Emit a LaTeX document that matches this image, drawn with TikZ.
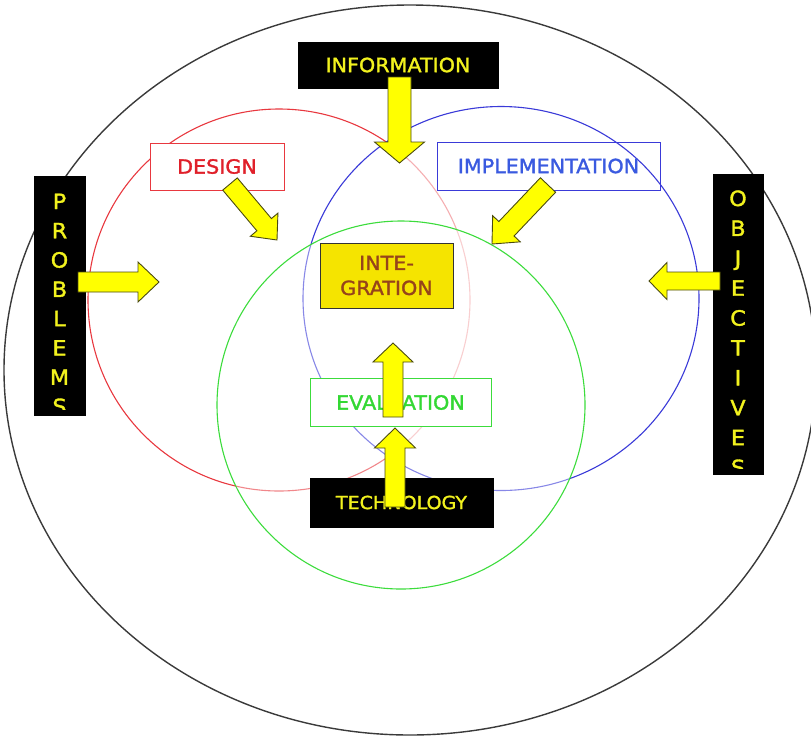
\documentclass[tikz,border=0pt]{standalone}
\usepackage{fontspec}
\newfontfamily\labelfont[FakeStretch=1.06,FakeBold=1.6]{DejaVu Sans}
\usetikzlibrary{calc}

\definecolor{outergray}{HTML}{3A3A3A}
\definecolor{ringred}{HTML}{E8383F}
\definecolor{ringblue}{HTML}{3A3AD8}
\definecolor{ringgreen}{HTML}{3CDC3C}
\definecolor{designred}{HTML}{E0202A}
\definecolor{implblue}{HTML}{3A5AE0}
\definecolor{evalgreen}{HTML}{33D833}
\definecolor{signyellow}{HTML}{F2F21E}
\definecolor{arrowfill}{HTML}{FFFF00}
\definecolor{arrowedge}{HTML}{4A4A10}
\definecolor{integfill}{HTML}{F5E400}
\definecolor{integtext}{HTML}{96441A}

% block arrow: tail, tip, shaft half width, head half width, head length
\newcommand{\bigarrow}[5]{%
  \coordinate (ba-h) at ($(#2)!#5!(#1)$);
  \draw[blockarrow] ($(#1)!#3!90:(#2)$) -- ($(ba-h)!#3!90:(#2)$)
    -- ($(ba-h)!#4!90:(#2)$) -- (#2) -- ($(ba-h)!#4!-90:(#2)$)
    -- ($(ba-h)!#3!-90:(#2)$) -- ($(#1)!#3!-90:(#2)$) -- cycle;}

\begin{document}
\begin{tikzpicture}[x=1pt,y=-1pt,
  ring/.style={line width=1.1pt},
  labelbox/.style={line width=1pt, inner sep=0pt,
    font=\labelfont\fontsize{19.5}{22}\selectfont},
  sign/.style={labelbox, fill=black, draw=black, text=signyellow},
  blockarrow/.style={fill=arrowfill, draw=arrowedge, line width=0.9pt, line join=miter},
  letter/.style={text=signyellow, inner sep=0pt, anchor=base,
    font=\labelfont\fontsize{21}{24}\selectfont}]

\useasboundingbox (0,0) rectangle (811,737);

% outer boundary
\draw[line width=1.4pt, outergray] (410,370) ellipse [x radius=406pt, y radius=365pt];

% the three overlapping rings
\draw[ring, ringred] (279,300) circle [radius=191pt];
\draw[ring, ringblue, fill=white, fill opacity=0.6] (501,298.5) ellipse [x radius=198pt, y radius=192pt];
\draw[ring, ringgreen, fill=white, fill opacity=0.4] (401,405) circle [radius=184pt];

% labelled boxes
\node[sign, minimum width=200pt, minimum height=46pt] (info) at (398,65) {INFORMATION};
\node[labelbox, draw=ringred, fill=white, text=designred,
      minimum width=134pt, minimum height=47pt] (design) at (217,166.5) {DESIGN};
\node[labelbox, draw=ringblue, text=implblue,
      minimum width=223pt, minimum height=48pt] (impl) at (548.5,166) {IMPLEMENTATION};
\node[labelbox, draw=black!80, fill=integfill, text=integtext, align=center,
      font=\labelfont\fontsize{19.5}{25}\selectfont,
      minimum width=133pt, minimum height=65pt] (integ) at (386.5,275.5) {INTE-\\GRATION};
\node[labelbox, draw=ringgreen, fill=white, text=evalgreen,
      minimum width=181pt, minimum height=48pt] (eval) at (400.5,402.5) {EVALUATION};
\node[sign, font=\labelfont\fontsize{18}{22}\selectfont,
      minimum width=183pt, minimum height=49pt] (tech) at (401.5,502.5) {TECHNOLOGY};

% vertical signs; the last letter runs past the text area and is cut off
\node[sign, minimum width=51pt, minimum height=239pt,
  path picture={
    \clip ([yshift=6pt]path picture bounding box.south west) rectangle (path picture bounding box.north east);
    \foreach \ch [count=\i, evaluate=\i as \off using 32.5+(\i-1)*29.3]
      in {P,R,O,B,L,E,M,S}
      \node[letter] at ([yshift=-\off pt]path picture bounding box.north) {\ch};}]
  (problems) at (59.5,296) {};
\node[sign, minimum width=50pt, minimum height=300pt,
  path picture={
    \clip ([yshift=6pt]path picture bounding box.south west) rectangle (path picture bounding box.north east);
    \foreach \ch [count=\i, evaluate=\i as \off using 31.5+(\i-1)*29.9]
      in {O,B,J,E,C,T,I,V,E,S}
      \node[letter] at ([yshift=-\off pt]path picture bounding box.north) {\ch};}]
  (objectives) at (738,324.5) {};

% arrow end points
\coordinate (info-tail) at (399.5,77);
\coordinate (info-tip) at (399.5,163);
\coordinate (design-tail) at (230,184);
\coordinate (design-tip) at (277,240);
\coordinate (impl-tail) at (548,185);
\coordinate (impl-tip) at (492,244);
\coordinate (problems-tail) at (78,282);
\coordinate (problems-tip) at (159,282);
\coordinate (objectives-tail) at (720,281);
\coordinate (objectives-tip) at (649,281);
\coordinate (eval-tail) at (393,417);
\coordinate (eval-tip) at (393,343);
\coordinate (tech-tail) at (395,507);
\coordinate (tech-tip) at (395,428);

% block arrows
\bigarrow{info-tail}{info-tip}{11.5pt}{25pt}{21pt}
\bigarrow{design-tail}{design-tip}{9.5pt}{18pt}{20pt}
\bigarrow{impl-tail}{impl-tip}{10.5pt}{19pt}{21pt}
\bigarrow{problems-tail}{problems-tip}{10pt}{20pt}{21pt}
\bigarrow{objectives-tail}{objectives-tip}{9pt}{18.5pt}{18pt}
\bigarrow{eval-tail}{eval-tip}{10pt}{20pt}{19pt}
\bigarrow{tech-tail}{tech-tip}{10pt}{20.5pt}{20pt}
\end{tikzpicture}
\end{document}
